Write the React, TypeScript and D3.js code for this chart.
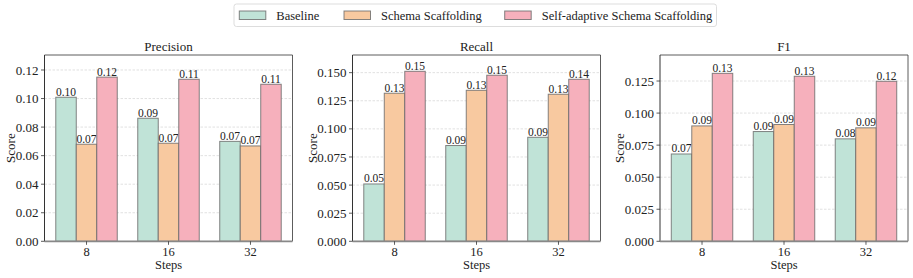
import React, { useRef, useEffect } from 'react';
import * as d3 from 'd3';

const steps = ['8', '16', '32'];
const seriesNames = ['Baseline', 'Schema Scaffolding', 'Self-adaptive Schema Scaffolding'];
const colors = ['#c0e3d7', '#f8c9a0', '#f6b0bc'];

// values per step: [baseline, schema, self-adaptive]
const precision = [
  [0.1009, 0.068, 0.115],
  [0.0862, 0.0687, 0.1135],
  [0.070, 0.0668, 0.110],
];
const recall = [
  [0.051, 0.1317, 0.1512],
  [0.0852, 0.1343, 0.1477],
  [0.0925, 0.1308, 0.1441],
];
const f1 = [
  [0.0681, 0.090, 0.131],
  [0.0856, 0.0911, 0.1287],
  [0.0799, 0.0885, 0.1248],
];

const precisionTicks = [0, 0.02, 0.04, 0.06, 0.08, 0.1, 0.12];
const recallTicks = [0, 0.025, 0.05, 0.075, 0.1, 0.125, 0.15];
const f1Ticks = [0, 0.025, 0.05, 0.075, 0.1, 0.125];

const panels = [
  { title: 'Precision', data: precision, ticks: precisionTicks, fmt: '.2f', ymax: 0.1305, left: 44.5 },
  { title: 'Recall', data: recall, ticks: recallTicks, fmt: '.3f', ymax: 0.1657, left: 352.5 },
  { title: 'F1', data: f1, ticks: f1Ticks, fmt: '.3f', ymax: 0.1453, left: 660 },
];

const W = 913;
const H = 278;
const FONT = '"Liberation Serif", serif';

const App = () => {
  const ref = useRef<SVGSVGElement>(null);

  useEffect(() => {
    if (!ref.current) return;
    const svg = d3.select(ref.current);
    svg.selectAll('*').remove();

    const top = 55;
    const bottom = 241.3;
    const pw = 248;

    const txt = (sel: any, size: number) =>
      sel.style('font-family', FONT).style('font-size', `${size}px`).attr('fill', '#222');

    panels.forEach((p) => {
      const g = svg.append('g').attr('transform', `translate(${p.left},0)`);
      const x = d3.scaleLinear().domain([-0.5125, 2.5125]).range([0, pw]);
      const y = d3.scaleLinear().domain([0, p.ymax]).range([bottom, top]);
      const barW = 0.25;

      // grid
      g.selectAll('line.grid')
        .data(p.ticks.filter(t => t > 0))
        .enter()
        .append('line')
        .attr('x1', 0).attr('x2', pw)
        .attr('y1', d => y(d)).attr('y2', d => y(d))
        .attr('stroke', '#cccccc')
        .attr('stroke-width', 0.6)
        .attr('stroke-dasharray', '2.5,1.5');

      // bars
      p.data.forEach((vals, i) => {
        vals.forEach((v, s) => {
          const cx = i + (s - 1) * barW;
          g.append('rect')
            .attr('x', x(cx - barW / 2))
            .attr('y', y(v))
            .attr('width', x(barW) - x(0))
            .attr('height', y(0) - y(v))
            .attr('fill', colors[s])
            .attr('stroke', '#666')
            .attr('stroke-opacity', 0.8)
            .attr('stroke-width', 1);
          txt(g.append('text')
            .attr('x', x(cx))
            .attr('y', y(v) - 1.5)
            .attr('text-anchor', 'middle'), 11.5)
            .text(d3.format('.2f')(v));
        });
      });

      // spines
      g.append('line').attr('x1', 0).attr('x2', pw).attr('y1', top).attr('y2', top)
        .attr('stroke', '#333').attr('stroke-width', 0.8);
      g.append('line').attr('x1', pw).attr('x2', pw).attr('y1', top).attr('y2', bottom)
        .attr('stroke', '#333').attr('stroke-width', 0.8);
      g.append('line').attr('x1', 0).attr('x2', 0).attr('y1', top).attr('y2', bottom)
        .attr('stroke', '#333').attr('stroke-width', 1);
      g.append('line').attr('x1', 0).attr('x2', pw).attr('y1', bottom).attr('y2', bottom)
        .attr('stroke', '#888').attr('stroke-width', 1.8);

      // y ticks
      p.ticks.forEach(t => {
        g.append('line').attr('x1', -3.5).attr('x2', 0).attr('y1', y(t)).attr('y2', y(t))
          .attr('stroke', '#333').attr('stroke-width', 0.8);
        txt(g.append('text')
          .attr('x', -6)
          .attr('y', y(t))
          .attr('dy', '0.35em')
          .attr('text-anchor', 'end'), 13)
          .text(d3.format(p.fmt)(t));
      });

      // x ticks
      steps.forEach((s, i) => {
        g.append('line').attr('x1', x(i)).attr('x2', x(i)).attr('y1', bottom).attr('y2', bottom + 3.5)
          .attr('stroke', '#333').attr('stroke-width', 0.8);
        txt(g.append('text')
          .attr('x', x(i))
          .attr('y', 256)
          .attr('text-anchor', 'middle'), 12.5)
          .text(s);
      });

      txt(g.append('text')
        .attr('x', pw / 2).attr('y', 269)
        .attr('text-anchor', 'middle'), 12.5)
        .text('Steps');

      txt(g.append('text')
        .attr('transform', `translate(${p.title === 'Precision' ? -34.5 : -40.5},${(top + bottom) / 2}) rotate(-90)`)
        .attr('dy', '0.35em')
        .attr('text-anchor', 'middle'), 13)
        .text('Score');

      txt(g.append('text')
        .attr('x', pw / 2).attr('y', 51)
        .attr('text-anchor', 'middle'), 13)
        .text(p.title);
    });

    // legend
    const lg = svg.append('g');
    lg.append('rect')
      .attr('x', 234).attr('y', 4).attr('width', 482.5).attr('height', 22.5)
      .attr('rx', 2.5)
      .attr('fill', '#fff').attr('stroke', '#dddddd').attr('stroke-width', 1);
    const patchX = [239.3, 344, 504.7];
    seriesNames.forEach((n, i) => {
      lg.append('rect')
        .attr('x', patchX[i]).attr('y', 11).attr('width', 26.5).attr('height', 8.5)
        .attr('fill', colors[i]).attr('stroke', '#666').attr('stroke-opacity', 0.8).attr('stroke-width', 1);
      txt(lg.append('text')
        .attr('x', patchX[i] + 37).attr('y', 19.5), 12.5)
        .text(n);
    });
  }, []);

  return (
    <svg ref={ref} width={W} height={H} style={{ position: 'absolute', left: 0, top: 0 }} />
  );
};

export default App;
